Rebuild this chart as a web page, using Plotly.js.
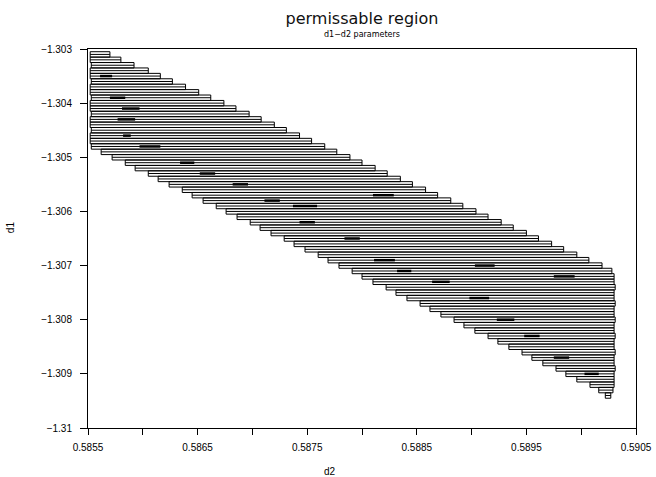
<!DOCTYPE html>
<html>
<head>
<meta charset="utf-8">
<script src="https://cdn.plot.ly/plotly-3.0.1.min.js"></script>
<style>
  html, body { margin: 0; padding: 0; background: #fff; }
  #chart { width: 656px; height: 477px; }
</style>
</head>
<body>
<div id="chart"></div>
<script>
// d1 level of each scanned row of the permissible region
const d1Rows = [
  -1.3031, -1.3032, -1.3033, -1.3034, -1.3035, -1.3036, -1.3037, -1.3038,
  -1.3039, -1.3040, -1.3041, -1.3042, -1.3043, -1.3044, -1.3045, -1.3046,
  -1.3047, -1.3048, -1.3049, -1.3050, -1.3051, -1.3052, -1.3053, -1.3054,
  -1.3055, -1.3056, -1.3057, -1.3058, -1.3059, -1.3060, -1.3061, -1.3062,
  -1.3063, -1.3064, -1.3065, -1.3066, -1.3067, -1.3068, -1.3069, -1.3070,
  -1.3071, -1.3072, -1.3073, -1.3074, -1.3075, -1.3076, -1.3077, -1.3078,
  -1.3079, -1.3080, -1.3081, -1.3082, -1.3083, -1.3084, -1.3085, -1.3086,
  -1.3087, -1.3088, -1.3089, -1.3090, -1.3091, -1.3092, -1.3093, -1.3094
];

// smallest admissible d2 on each row
const d2Min = [
  0.58552, 0.58552, 0.58553, 0.58552, 0.58552, 0.58553, 0.58552, 0.58552,
  0.58553, 0.58552, 0.58552, 0.58553, 0.58552, 0.58552, 0.58553, 0.58552,
  0.58552, 0.58553, 0.58562, 0.58572, 0.58584, 0.58593, 0.58605, 0.58614,
  0.58624, 0.58636, 0.58645, 0.58655, 0.58667, 0.58676, 0.58686, 0.58698,
  0.58707, 0.58717, 0.58729, 0.58738, 0.58748, 0.58760, 0.58769, 0.58779,
  0.58791, 0.58800, 0.58810, 0.58822, 0.58831, 0.58841, 0.58853, 0.58862,
  0.58872, 0.58884, 0.58893, 0.58903, 0.58915, 0.58924, 0.58934, 0.58946,
  0.58955, 0.58965, 0.58977, 0.58986, 0.58996, 0.59008, 0.59016, 0.59022
];

// largest admissible d2 on each row
const d2Max = [
  0.58570, 0.58580, 0.58592, 0.58605, 0.58616, 0.58627, 0.58639, 0.58651,
  0.58662, 0.58674, 0.58685, 0.58697, 0.58708, 0.58720, 0.58731, 0.58743,
  0.58754, 0.58766, 0.58777, 0.58789, 0.58800, 0.58812, 0.58823, 0.58835,
  0.58846, 0.58858, 0.58869, 0.58881, 0.58892, 0.58904, 0.58915, 0.58927,
  0.58938, 0.58950, 0.58961, 0.58973, 0.58984, 0.58996, 0.59007, 0.59019,
  0.59028, 0.59030, 0.59030, 0.59031, 0.59030, 0.59030, 0.59031, 0.59030,
  0.59030, 0.59031, 0.59030, 0.59030, 0.59031, 0.59030, 0.59030, 0.59031,
  0.59030, 0.59030, 0.59031, 0.59030, 0.59030, 0.59030, 0.59029, 0.59027
];

// heavily overprinted stretches inside the region (row level, d2 from, d2 to)
const denseD1 = [
  -1.3035, -1.3039, -1.3041, -1.3043, -1.3046, -1.3048, -1.3051, -1.3053,
  -1.3055, -1.3057, -1.3058, -1.3059, -1.3062, -1.3065, -1.3069, -1.3070,
  -1.3071, -1.3072, -1.3073, -1.3076, -1.3080, -1.3083, -1.3087, -1.3090
];
const denseFrom = [
  0.58561, 0.58570, 0.58581, 0.58577, 0.58582, 0.58597, 0.58634, 0.58652,
  0.58682, 0.58810, 0.58711, 0.58737, 0.58743, 0.58784, 0.58811, 0.58903,
  0.58832, 0.58975, 0.58864, 0.58898, 0.58923, 0.58948, 0.58975, 0.59003
];
const denseTo = [
  0.58572, 0.58584, 0.58597, 0.58593, 0.58589, 0.58616, 0.58647, 0.58666,
  0.58696, 0.58829, 0.58725, 0.58759, 0.58757, 0.58798, 0.58830, 0.58921,
  0.58845, 0.58994, 0.58880, 0.58916, 0.58939, 0.58962, 0.58989, 0.59016
];

// axis ticks
const xTickVals = [0.5855, 0.5865, 0.5875, 0.5885, 0.5895, 0.5905];
const xTickText = ['0.5855', '0.5865', '0.5875', '0.5885', '0.5895', '0.5905'];
const yTickVals = [-1.303, -1.304, -1.305, -1.306, -1.307, -1.308, -1.309, -1.31];
const yTickText = ['\u22121.303', '\u22121.304', '\u22121.305', '\u22121.306',
                   '\u22121.307', '\u22121.308', '\u22121.309', '\u22121.31'];

// each row: an outlined cell one row step tall, split by a centre line,
// so the row ends join into a staircase outline
const halfStep = 0.00005;
const bx = [], by = [];
for (let i = 0; i < d1Rows.length; i++) {
  const yc = d1Rows[i], yt = yc + halfStep, yb = yc - halfStep;
  bx.push(d2Min[i], d2Max[i], d2Max[i], d2Min[i], d2Min[i], null);
  by.push(yt, yt, yb, yb, yt, null);
  bx.push(d2Min[i], d2Max[i], null);
  by.push(yc, yc, null);
}

const dx = [], dy = [];
for (let i = 0; i < denseD1.length; i++) {
  dx.push(denseFrom[i], denseTo[i], null);
  dy.push(denseD1[i], denseD1[i], null);
}

const font = 'Liberation Sans, Arial, sans-serif';

const traces = [
  {
    type: 'scatter', mode: 'lines', x: bx, y: by,
    line: { color: '#000', width: 1 },
    hoverinfo: 'skip', showlegend: false
  },
  {
    type: 'scatter', mode: 'lines', x: dx, y: dy,
    line: { color: '#000', width: 2.5 },
    hoverinfo: 'skip', showlegend: false
  }
];

const layout = {
  width: 656,
  height: 477,
  margin: { l: 88, r: 20, t: 49, b: 49 },
  paper_bgcolor: '#fff',
  plot_bgcolor: '#fff',
  showlegend: false,
  title: {
    text: 'permissable region',
    font: { family: 'DejaVu Sans, sans-serif', size: 16, color: '#111' },
    x: 0.5, xref: 'paper', xanchor: 'center',
    y: 1 - 18 / 477, yanchor: 'middle'
  },
  xaxis: {
    range: [0.5855, 0.5905],
    tickmode: 'array',
    tickvals: xTickVals,
    ticktext: xTickText,
    ticks: 'outside',
    ticklen: 6,
    tickwidth: 1,
    tickcolor: '#000',
    ticklabelstandoff: 4,
    minor: { dtick: 0.0005, tick0: 0.5855, ticks: 'outside', ticklen: 6, tickcolor: '#000', showgrid: false },
    showline: true,
    linecolor: '#000',
    linewidth: 1,
    mirror: true,
    showgrid: false,
    zeroline: false,
    tickfont: { family: font, size: 10, color: '#000' }
  },
  yaxis: {
    range: [-1.31, -1.303],
    tickmode: 'array',
    tickvals: yTickVals,
    ticktext: yTickText,
    ticks: 'outside',
    ticklen: 7,
    tickwidth: 1,
    tickcolor: '#000',
    ticklabelstandoff: 6,
    showline: true,
    linecolor: '#000',
    linewidth: 1,
    mirror: true,
    showgrid: false,
    zeroline: false,
    tickfont: { family: font, size: 10, color: '#000' }
  },
  annotations: [
    {
      text: 'd1\u2212d2 parameters',
      xref: 'paper', yref: 'paper',
      x: 0.5, y: 1, yshift: 15,
      xanchor: 'center', yanchor: 'middle',
      showarrow: false,
      font: { family: 'DejaVu Sans, sans-serif', size: 8, color: '#000' }
    },
    {
      text: 'd1',
      xref: 'paper', yref: 'paper',
      x: 0, xshift: -78, y: 0.53,
      xanchor: 'center', yanchor: 'middle',
      textangle: -90,
      showarrow: false,
      font: { family: font, size: 10, color: '#000' }
    },
    {
      text: 'd2',
      xref: 'paper', yref: 'paper',
      x: 0.441, y: 0, yshift: -43,
      xanchor: 'center', yanchor: 'middle',
      showarrow: false,
      font: { family: font, size: 10, color: '#000' }
    }
  ]
};

Plotly.newPlot('chart', traces, layout, { staticPlot: true, displayModeBar: false });
</script>
</body>
</html>
